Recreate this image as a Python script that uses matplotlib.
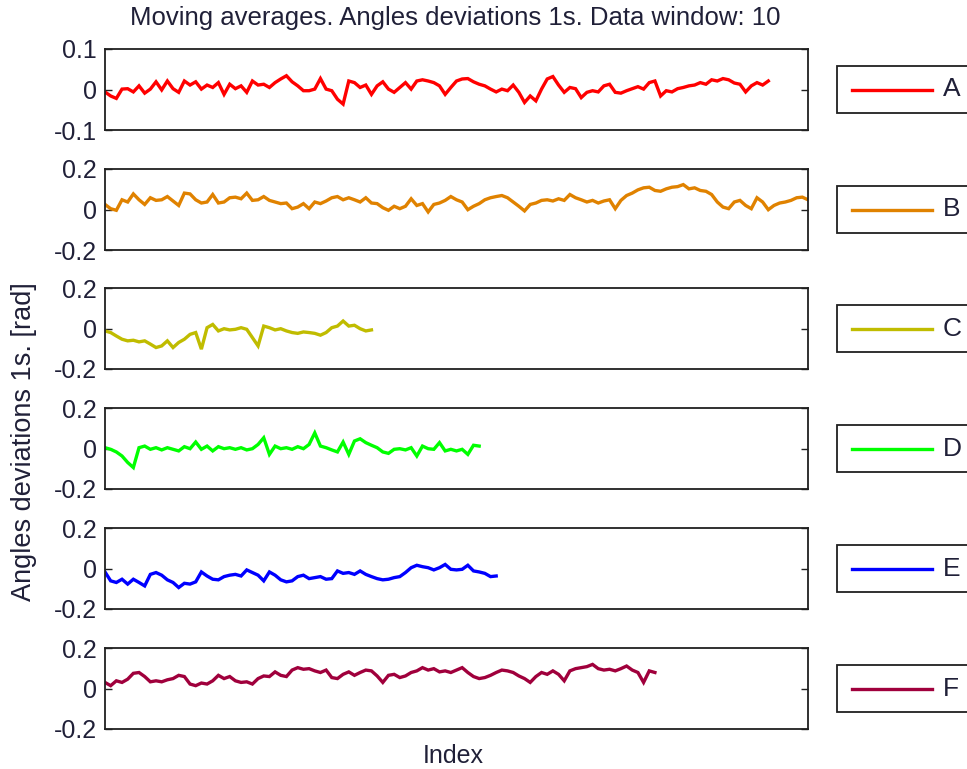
import matplotlib
matplotlib.use("Agg")
import matplotlib.pyplot as plt
from matplotlib.patches import Rectangle
from matplotlib.lines import Line2D
import numpy as np

plt.rcParams['font.family'] = ['Liberation Sans', 'DejaVu Sans']
plt.rcParams['axes.unicode_minus'] = False

# moving averages (window 10) of the 1s angle deviations, one list per channel
dev_a = [-0.006, -0.016, -0.022, 0.001, 0.002, -0.006, 0.009, -0.009, 0.001, 0.019,
         -0.001, 0.021, 0.002, -0.007, 0.021, 0.011, 0.019, 0.001, 0.011, 0.005,
         0.017, -0.012, 0.013, 0.002, 0.009, -0.007, 0.021, 0.011, 0.013, 0.005,
         0.017, 0.026, 0.034, 0.019, 0.009, -0.003, -0.003, 0.001, 0.027, 0.001,
         -0.003, -0.024, -0.036, 0.021, 0.017, 0.005, 0.011, -0.012, 0.009, 0.019,
         0.001, -0.007, 0.005, 0.017, 0.001, 0.021, 0.024, 0.021, 0.017, 0.009,
         -0.012, 0.005, 0.021, 0.026, 0.027, 0.019, 0.013, 0.009, 0.001, -0.006,
         0.001, -0.003, 0.011, -0.007, -0.032, -0.016, -0.028, 0.001, 0.026, 0.032,
         0.011, -0.007, 0.005, 0.002, -0.020, -0.007, -0.003, -0.006, 0.009, 0.013,
         -0.007, -0.009, -0.003, 0.002, 0.007, 0.001, 0.017, 0.021, -0.016, -0.003,
         -0.006, 0.002, 0.005, 0.009, 0.011, 0.017, 0.013, 0.024, 0.021, 0.027,
         0.024, 0.016, 0.013, -0.006, 0.009, 0.017, 0.011, 0.021]
dev_b = [0.025, 0.004, -0.004, 0.048, 0.037, 0.077, 0.048, 0.025, 0.058, 0.045,
         0.048, 0.064, 0.042, 0.020, 0.081, 0.077, 0.048, 0.032, 0.037, 0.074,
         0.032, 0.037, 0.058, 0.061, 0.053, 0.081, 0.045, 0.048, 0.064, 0.045,
         0.037, 0.029, 0.032, 0.004, 0.012, 0.029, 0.004, 0.037, 0.029, 0.042,
         0.058, 0.064, 0.048, 0.058, 0.048, 0.037, 0.058, 0.032, 0.029, 0.009,
         -0.004, 0.016, 0.004, 0.016, 0.053, 0.020, 0.029, -0.012, 0.025, 0.032,
         0.045, 0.064, 0.048, 0.037, -0.001, 0.016, 0.029, 0.048, 0.058, 0.064,
         0.069, 0.058, 0.037, 0.016, -0.007, 0.025, 0.032, 0.045, 0.048, 0.042,
         0.053, 0.045, 0.074, 0.058, 0.048, 0.037, 0.045, 0.032, 0.042, 0.048,
         0.004, 0.045, 0.069, 0.081, 0.097, 0.107, 0.110, 0.094, 0.090, 0.102,
         0.110, 0.113, 0.123, 0.102, 0.107, 0.094, 0.090, 0.074, 0.037, 0.012,
         0.004, 0.037, 0.045, 0.020, 0.004, 0.058, 0.037, -0.001, 0.020, 0.032,
         0.037, 0.045, 0.058, 0.061, 0.048]
dev_c = [-0.012, -0.020, -0.037, -0.053, -0.061, -0.058, -0.066, -0.061, -0.077, -0.094,
         -0.086, -0.061, -0.094, -0.069, -0.053, -0.029, -0.020, -0.102, 0.004, 0.020,
         -0.012, -0.001, -0.007, -0.004, 0.004, -0.004, -0.045, -0.086, 0.012, 0.004,
         -0.007, -0.001, -0.012, -0.020, -0.024, -0.017, -0.020, -0.024, -0.033, -0.020,
         0.004, 0.012, 0.037, 0.012, 0.016, -0.001, -0.012, -0.007]
dev_d = [0.004, -0.004, -0.017, -0.037, -0.069, -0.094, 0.004, 0.012, -0.004, 0.004,
         -0.007, 0.004, -0.004, -0.012, 0.009, -0.001, 0.032, -0.004, 0.012, -0.012,
         0.009, -0.001, 0.004, -0.004, 0.004, -0.007, -0.001, 0.020, 0.053, -0.029,
         0.012, -0.001, 0.004, -0.004, 0.009, -0.001, 0.020, 0.077, 0.012, 0.004,
         -0.007, -0.017, 0.032, -0.029, 0.037, 0.048, 0.029, 0.016, 0.004, -0.017,
         -0.024, -0.004, -0.001, -0.007, 0.004, -0.037, 0.012, -0.001, -0.004, 0.029,
         -0.012, -0.004, -0.012, -0.004, -0.029, 0.016, 0.012]
dev_e = [-0.017, -0.061, -0.069, -0.053, -0.077, -0.053, -0.069, -0.086, -0.029, -0.020,
         -0.033, -0.056, -0.069, -0.094, -0.073, -0.077, -0.066, -0.017, -0.037, -0.053,
         -0.056, -0.040, -0.033, -0.029, -0.037, -0.007, -0.020, -0.033, -0.061, -0.017,
         -0.033, -0.056, -0.066, -0.061, -0.040, -0.033, -0.050, -0.045, -0.040, -0.053,
         -0.050, -0.012, -0.024, -0.020, -0.029, -0.012, -0.029, -0.040, -0.050, -0.056,
         -0.053, -0.045, -0.040, -0.020, 0.004, 0.016, 0.009, 0.004, -0.007, 0.004,
         0.020, -0.004, -0.007, -0.004, 0.016, -0.012, -0.017, -0.024, -0.040, -0.037]
dev_f = [0.030, 0.014, 0.038, 0.030, 0.046, 0.075, 0.079, 0.059, 0.033, 0.038,
         0.033, 0.043, 0.049, 0.065, 0.059, 0.022, 0.014, 0.027, 0.022, 0.038,
         0.065, 0.049, 0.059, 0.038, 0.030, 0.033, 0.022, 0.049, 0.062, 0.059,
         0.082, 0.065, 0.059, 0.091, 0.103, 0.095, 0.098, 0.087, 0.079, 0.091,
         0.054, 0.049, 0.070, 0.082, 0.065, 0.079, 0.091, 0.087, 0.062, 0.030,
         0.065, 0.070, 0.054, 0.062, 0.079, 0.087, 0.103, 0.091, 0.098, 0.082,
         0.087, 0.079, 0.091, 0.103, 0.079, 0.059, 0.049, 0.054, 0.065, 0.079,
         0.091, 0.087, 0.079, 0.062, 0.049, 0.030, 0.059, 0.079, 0.070, 0.087,
         0.070, 0.038, 0.087, 0.098, 0.103, 0.108, 0.119, 0.098, 0.091, 0.095,
         0.087, 0.098, 0.111, 0.091, 0.079, 0.030, 0.087, 0.079]

series = [dev_a, dev_b, dev_c, dev_d, dev_e, dev_f]
names = ['A', 'B', 'C', 'D', 'E', 'F']
colors = ['#ff0000', '#e08200', '#c0bc00', '#00ff00', '#0000ff', '#a0003c']
ylims = [0.1, 0.2, 0.2, 0.2, 0.2, 0.2]
step = 8  # samples between stored points

W, H = 967, 769
fig = plt.figure(figsize=(W / 100, H / 100), dpi=100)
txt = '#202038'
edge = '#202020'
fs = 18


def px(x, y):
    # pixel position (from top-left) -> figure fraction
    return x / W, 1 - y / H


x_end = 1 + step * (len(dev_b) - 1)
tops = [49, 169, 288, 408, 528, 648]
for k, (vals, nm, col, lim) in enumerate(zip(series, names, colors, ylims)):
    top = tops[k]
    ax = fig.add_axes([105 / W, 1 - (top + 81) / H, 703 / W, 81 / H])
    x = 1 + step * np.arange(len(vals))
    ax.plot(x, vals, color=col, lw=2.4, solid_joinstyle='miter')
    ax.set_xlim(1, x_end)
    ax.set_ylim(-lim, lim)
    ax.set_xticks([])
    ax.set_yticks([-lim, 0, lim])
    ax.set_yticklabels(['-%g' % lim, '0', '%g' % lim])
    ax.tick_params(axis='y', direction='in', length=5, width=1, right=True,
                   labelsize=fs, labelcolor=txt, pad=6, color=edge)
    for sp in ax.spines.values():
        sp.set_color(edge)
        sp.set_linewidth(1.3)

    # legend box to the right of each panel, running off the figure edge
    cy = top + 40.5
    x0, y0 = px(837, cy + 23.5)
    x1, y1 = px(1000, cy - 23.5)
    fig.patches.append(Rectangle((x0, y0), x1 - x0, y1 - y0, transform=fig.transFigure,
                                 facecolor='white', edgecolor=edge, lw=1.3))
    lx0, ly = px(852, cy)
    lx1, _ = px(932, cy)
    fig.lines.append(Line2D([lx0, lx1], [ly, ly], transform=fig.transFigure,
                            color=col, lw=2.4))
    tx, ty = px(943, cy)
    fig.text(tx, ty, nm, ha='left', va='center', fontsize=19, color=txt)

fig.text(*px(455, 18), 'Moving averages. Angles deviations 1s. Data window: 10',
         ha='center', va='center', fontsize=18.5, color=txt)
fig.text(*px(453, 756), 'Index', ha='center', va='center', fontsize=fs, color=txt)
fig.text(*px(24, 442), 'Angles deviations 1s. [rad]', ha='center', va='center',
         rotation=90, fontsize=19.5, color=txt)

fig.savefig('out.png', dpi=100)
